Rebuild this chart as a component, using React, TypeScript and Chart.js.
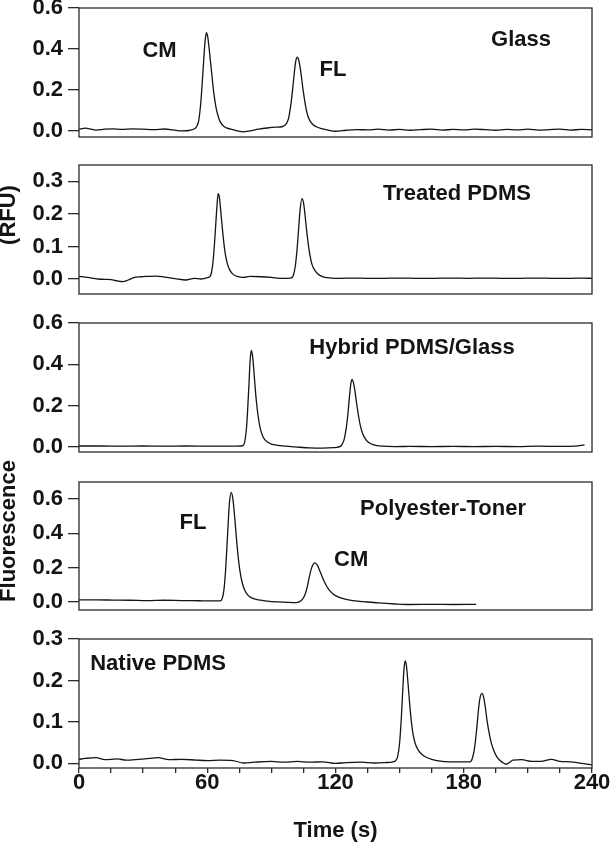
import React, { useEffect, useRef } from "react";
import { Chart, registerables } from "chart.js";

Chart.register(...registerables);

const FONT = '"Liberation Sans", Arial, Helvetica, sans-serif';
const INK = "#141414";
const FRAME = "#2a2a2a";

// ---------- Data (time in s, fluorescence in RFU) ----------
const glassTime = [0, 3, 5, 8, 12, 16, 20, 25, 30, 35, 40, 44, 48, 52,
  54, 55, 56, 57, 57.5, 58, 58.5, 59, 59.6, 60.2, 60.8, 61.4, 62, 63, 64, 65, 66, 68,
  71, 74, 77, 80, 84, 88, 92, 95,
  96, 97, 98, 99, 99.5, 100, 100.5, 101, 101.5, 102.1, 102.7, 103.3, 104, 104.7, 105.4, 106.2, 107, 108, 109.5, 111, 113, 116, 120,
  125, 130, 135, 140, 145, 150, 155, 160, 165, 170, 175, 180, 185, 190, 195, 200, 205, 210, 215, 220, 225, 230, 235, 240];
const glassRFU = [0.008, 0.013, 0.01, 0.004, 0.008, 0.01, 0.007, 0.01, 0.008, 0.006, 0.009, 0.005, 0.0, 0.003,
  0.01, 0.02, 0.05, 0.14, 0.21, 0.29, 0.37, 0.44, 0.48, 0.46, 0.41, 0.35, 0.29, 0.19, 0.12, 0.075, 0.045, 0.02,
  0.008, 0.0, -0.005, 0.0, 0.008, 0.014, 0.018, 0.02,
  0.025, 0.035, 0.06, 0.12, 0.16, 0.21, 0.26, 0.31, 0.345, 0.36, 0.35, 0.32, 0.27, 0.21, 0.16, 0.11, 0.075, 0.05, 0.03, 0.02, 0.012, 0.005, -0.002,
  0.003, 0.006, 0.005, 0.008, 0.004, 0.007, 0.003, 0.006, 0.008, 0.004, 0.007, 0.005, 0.008, 0.006, 0.003, 0.007, 0.005, 0.008, 0.004, 0.006, 0.008, 0.004, 0.007, 0.005];

const treatedTime = [0, 3, 6, 9, 12, 15, 18, 20.5, 23, 26, 29, 32, 36, 40, 45, 50, 54, 57, 60,
  61, 62, 62.8, 63.4, 64, 64.5, 65.1, 65.7, 66.3, 67, 67.7, 68.5, 69.5, 70.5, 72, 74,
  77, 80, 85, 90, 95, 99,
  100.2, 101.2, 102, 102.7, 103.4, 104.3, 105, 105.7, 106.4, 107.2, 108, 109, 110.5, 112.5, 115, 118,
  122, 128, 135, 142, 150, 158, 166, 174, 182, 190, 198, 206, 214, 222, 230, 236, 240];
const treatedRFU = [0.008, 0.006, 0.003, 0.0, -0.001, -0.002, -0.006, -0.008, -0.003, 0.005, 0.007, 0.008, 0.009, 0.006, 0.001, -0.003, 0.002, 0.0, 0.004,
  0.006, 0.02, 0.06, 0.11, 0.17, 0.22, 0.262, 0.25, 0.21, 0.16, 0.115, 0.075, 0.045, 0.028, 0.015, 0.008,
  0.005, 0.008, 0.007, 0.005, 0.002, 0.003,
  0.01, 0.04, 0.09, 0.15, 0.21, 0.247, 0.235, 0.2, 0.155, 0.11, 0.075, 0.045, 0.025, 0.012, 0.005, 0.003,
  0.002, 0.003, 0.002, 0.002, 0.003, 0.002, 0.002, 0.003, 0.002, 0.003, 0.002, 0.002, 0.003, 0.002, 0.002, 0.003, 0.002];

const hybridTime = [0, 10, 20, 30, 40, 50, 60, 70, 76,
  77, 77.8, 78.5, 79, 79.5, 80, 80.6, 81.2, 81.8, 82.4, 83, 83.8, 84.6, 85.5, 86.5, 88, 90, 93, 97, 102, 108, 114, 119, 122,
  123, 124, 125, 125.8, 126.5, 127.1, 127.7, 128.4, 129.1, 129.9, 130.7, 131.6, 132.6, 133.8, 135.5, 138, 142, 148,
  155, 165, 175, 185, 195, 205, 215, 225, 232, 236.5];
const hybridRFU = [0.005, 0.005, 0.004, 0.005, 0.004, 0.005, 0.004, 0.004, 0.005,
  0.01, 0.04, 0.11, 0.2, 0.3, 0.41, 0.467, 0.44, 0.37, 0.29, 0.22, 0.15, 0.1, 0.065, 0.042, 0.025, 0.014, 0.008, 0.004, 0.0, -0.004, -0.005, -0.003, 0.002,
  0.012, 0.035, 0.09, 0.16, 0.24, 0.3, 0.327, 0.31, 0.27, 0.21, 0.155, 0.105, 0.068, 0.042, 0.022, 0.01, 0.004, 0.002,
  0.003, 0.002, 0.003, 0.002, 0.003, 0.002, 0.004, 0.003, 0.004, 0.01];

const tonerTime = [0, 8, 16, 24, 32, 40, 48, 56, 62, 66,
  67, 67.8, 68.5, 69.2, 69.8, 70.4, 71.2, 72, 72.8, 73.6, 74.4, 75.3, 76.3, 77.5, 79, 81, 84, 88, 93, 98, 101.5,
  103, 104.5, 105.8, 107, 108, 109, 110.3, 111.5, 112.7, 114, 115.5, 117, 119, 121.5, 124.5, 128, 133, 140, 148, 155, 165, 175, 185.8];
const tonerRFU = [0.012, 0.012, 0.011, 0.01, 0.008, 0.01, 0.008, 0.007, 0.006, 0.006,
  0.02, 0.07, 0.17, 0.32, 0.46, 0.58, 0.639, 0.6, 0.5, 0.38, 0.27, 0.18, 0.115, 0.07, 0.04, 0.022, 0.012, 0.005, 0.0, -0.003, -0.004,
  0.0, 0.015, 0.045, 0.1, 0.16, 0.205, 0.228, 0.215, 0.18, 0.14, 0.1, 0.07, 0.045, 0.028, 0.016, 0.008, 0.002, -0.006, -0.012, -0.015, -0.014, -0.015, -0.014];

const nativeTime = [0, 3, 8, 12, 18, 22, 28, 33, 37, 42, 48, 55, 60, 66, 72, 77, 82, 90, 96, 102, 108, 114, 120, 125, 132, 138, 143, 147,
  148, 149, 150, 150.8, 151.5, 152, 152.6, 153.2, 153.9, 154.6, 155.4, 156.3, 157.3, 158.5, 160, 162, 165,
  170, 175, 180, 183,
  184, 185, 186, 186.8, 187.5, 188.5, 189.3, 190.1, 191, 192, 193, 194.3, 195.5, 197, 198.5, 200, 201.5, 203,
  207, 212, 216, 221, 225, 230, 235, 240];
const nativeRFU = [0.01, 0.012, 0.014, 0.009, 0.011, 0.008, 0.01, 0.012, 0.014, 0.009, 0.01, 0.008, 0.007, 0.008, 0.007, 0.001, 0.003, 0.005, 0.003, 0.005, 0.003, 0.004, 0.0, 0.002, 0.003, 0.001, 0.002, 0.004,
  0.006, 0.015, 0.05, 0.11, 0.18, 0.225, 0.247, 0.235, 0.195, 0.15, 0.105, 0.07, 0.048, 0.034, 0.024, 0.016, 0.01,
  0.005, 0.004, 0.004, 0.004,
  0.012, 0.035, 0.08, 0.125, 0.155, 0.169, 0.16, 0.135, 0.1, 0.07, 0.047, 0.028, 0.016, 0.007, 0.001, -0.002, 0.003, 0.008,
  0.009, 0.005, 0.005, 0.01, 0.005, 0.004, 0.0, -0.003];

// ---------- Tick values ----------
const glassTicks = [0, 0.2, 0.4, 0.6];
const treatedTicks = [0, 0.1, 0.2, 0.3];
const hybridTicks = [0, 0.2, 0.4, 0.6];
const tonerTicks = [0, 0.2, 0.4, 0.6];
const nativeTicks = [0, 0.1, 0.2, 0.3];
const timeTicks = [0, 15, 30, 45, 60, 75, 90, 105, 120, 135, 150, 165, 180, 195, 210, 225, 240];
const timeLabelTicks = [0, 60, 120, 180, 240];

// ---------- Annotations (text placed at time / RFU coordinates) ----------
const glassNotes = [
  { text: "CM", t: 37.7, v: 0.39 },
  { text: "FL", t: 118.8, v: 0.298 },
  { text: "Glass", t: 206.8, v: 0.444 },
];
const treatedNotes = [{ text: "Treated PDMS", t: 176.8, v: 0.261 }];
const hybridNotes = [{ text: "Hybrid PDMS/Glass", t: 155.8, v: 0.479 }];
const tonerNotes = [
  { text: "Polyester-Toner", t: 170.3, v: 0.545 },
  { text: "FL", t: 53.3, v: 0.46 },
  { text: "CM", t: 127.3, v: 0.247 },
];
const nativeNotes = [{ text: "Native PDMS", t: 37, v: 0.239 }];

type Note = { text: string; t: number; v: number };
type Panel = {
  time: number[];
  rfu: number[];
  yTicks: number[];
  yMin: number;
  yMax: number;
  top: number;
  height: number;
  padTop: number;
  padBottom: number;
  showX: boolean;
  notes: Note[];
  side?: { text: string; x: number; y: number };
};

const panels: Panel[] = [
  { time: glassTime, rfu: glassRFU, yTicks: glassTicks, yMin: -0.03, yMax: 0.6, top: 0, height: 145, padTop: 8, padBottom: 8, showX: false, notes: glassNotes },
  { time: treatedTime, rfu: treatedRFU, yTicks: treatedTicks, yMin: -0.046, yMax: 0.35, top: 150, height: 152, padTop: 15, padBottom: 8, showX: false, notes: treatedNotes, side: { text: "(RFU)", x: 9, y: 65 } },
  { time: hybridTime, rfu: hybridRFU, yTicks: hybridTicks, yMin: -0.024, yMax: 0.6, top: 308, height: 152, padTop: 15, padBottom: 8, showX: false, notes: hybridNotes },
  { time: tonerTime, rfu: tonerRFU, yTicks: tonerTicks, yMin: -0.047, yMax: 0.7, top: 455, height: 165, padTop: 27, padBottom: 10, showX: false, notes: tonerNotes, side: { text: "Fluorescence", x: 9, y: 76 } },
  { time: nativeTime, rfu: nativeRFU, yTicks: nativeTicks, yMin: -0.011, yMax: 0.3, top: 625, height: 217, padTop: 14, padBottom: 0, showX: true, notes: nativeNotes },
];

function decor(p: Panel) {
  return {
    id: "decor",
    afterDraw(chart: any) {
      const { ctx, chartArea: a, scales } = chart;
      ctx.save();
      ctx.strokeStyle = FRAME;
      ctx.lineWidth = 1.3;
      ctx.strokeRect(a.left, a.top, a.right - a.left, a.bottom - a.top);
      ctx.fillStyle = INK;
      ctx.font = `bold 22px ${FONT}`;
      ctx.textAlign = "center";
      ctx.textBaseline = "middle";
      for (const n of p.notes) {
        ctx.fillText(n.text, scales.x.getPixelForValue(n.t), scales.y.getPixelForValue(n.v));
      }
      if (p.side) {
        ctx.translate(p.side.x, p.side.y);
        ctx.rotate(-Math.PI / 2);
        ctx.fillText(p.side.text, 0, 0);
      }
      ctx.restore();
    },
  };
}

function PanelChart({ p }: { p: Panel }) {
  const ref = useRef<HTMLCanvasElement>(null);
  useEffect(() => {
    const n = Math.min(p.time.length, p.rfu.length);
    const pts = [];
    for (let i = 0; i < n; i++) pts.push({ x: p.time[i], y: p.rfu[i] });
    const grid = {
      display: true,
      drawOnChartArea: false,
      drawTicks: true,
      color: FRAME,
      lineWidth: 1.3,
    };
    const chart = new Chart(ref.current as HTMLCanvasElement, {
      type: "line",
      data: {
        datasets: [
          {
            data: pts,
            borderColor: INK,
            borderWidth: 1.3,
            pointRadius: 0,
            fill: false,
            cubicInterpolationMode: "monotone",
          },
        ],
      },
      options: {
        animation: false,
        responsive: false,
        devicePixelRatio: 1,
        layout: { padding: { left: 0, right: 19, top: p.padTop, bottom: p.padBottom } },
        plugins: { legend: { display: false }, tooltip: { enabled: false } },
        scales: {
          x: {
            type: "linear",
            min: 0,
            max: 240,
            display: p.showX,
            border: { display: false },
            grid: { ...grid, tickLength: 5 },
            afterBuildTicks: (s: any) => {
              s.ticks = timeTicks.map((v) => ({ value: v }));
            },
            afterFit: (s: any) => {
              s.height = p.showX ? 74 : 0;
              s.paddingLeft = 0;
              s.paddingRight = 0;
            },
            ticks: {
              autoSkip: false,
              maxRotation: 0,
              minRotation: 0,
              padding: -1,
              color: INK,
              font: { family: FONT, size: 22, weight: "bold", lineHeight: 1 },
              callback: (v: any) => (timeLabelTicks.includes(Number(v)) ? String(v) : ""),
            },
            title: {
              display: true,
              text: "Time (s)",
              color: INK,
              padding: 0,
              font: { family: FONT, size: 22, weight: "bold", lineHeight: 1 },
            },
          },
          y: {
            type: "linear",
            min: p.yMin,
            max: p.yMax,
            border: { display: false },
            grid: { ...grid, tickLength: 11 },
            afterBuildTicks: (s: any) => {
              s.ticks = p.yTicks.map((v) => ({ value: v }));
            },
            afterFit: (s: any) => {
              s.width = 79;
              s.paddingTop = 0;
              s.paddingBottom = 0;
            },
            ticks: {
              padding: 5,
              color: INK,
              font: { family: FONT, size: 22, weight: "bold", lineHeight: 1 },
              callback: (v: any) => Number(v).toFixed(1),
            },
          },
        },
      },
      plugins: [decor(p)],
    } as any);
    return () => chart.destroy();
  }, [p]);
  return (
    <canvas
      ref={ref}
      width={611}
      height={p.height}
      style={{ position: "absolute", left: 0, top: p.top, width: 611, height: p.height }}
    />
  );
}

export default function App() {
  return (
    <div style={{ position: "absolute", left: 0, top: 0, width: 611, height: 842, background: "#fff" }}>
      {panels.map((p, i) => (
        <PanelChart key={i} p={p} />
      ))}
    </div>
  );
}
